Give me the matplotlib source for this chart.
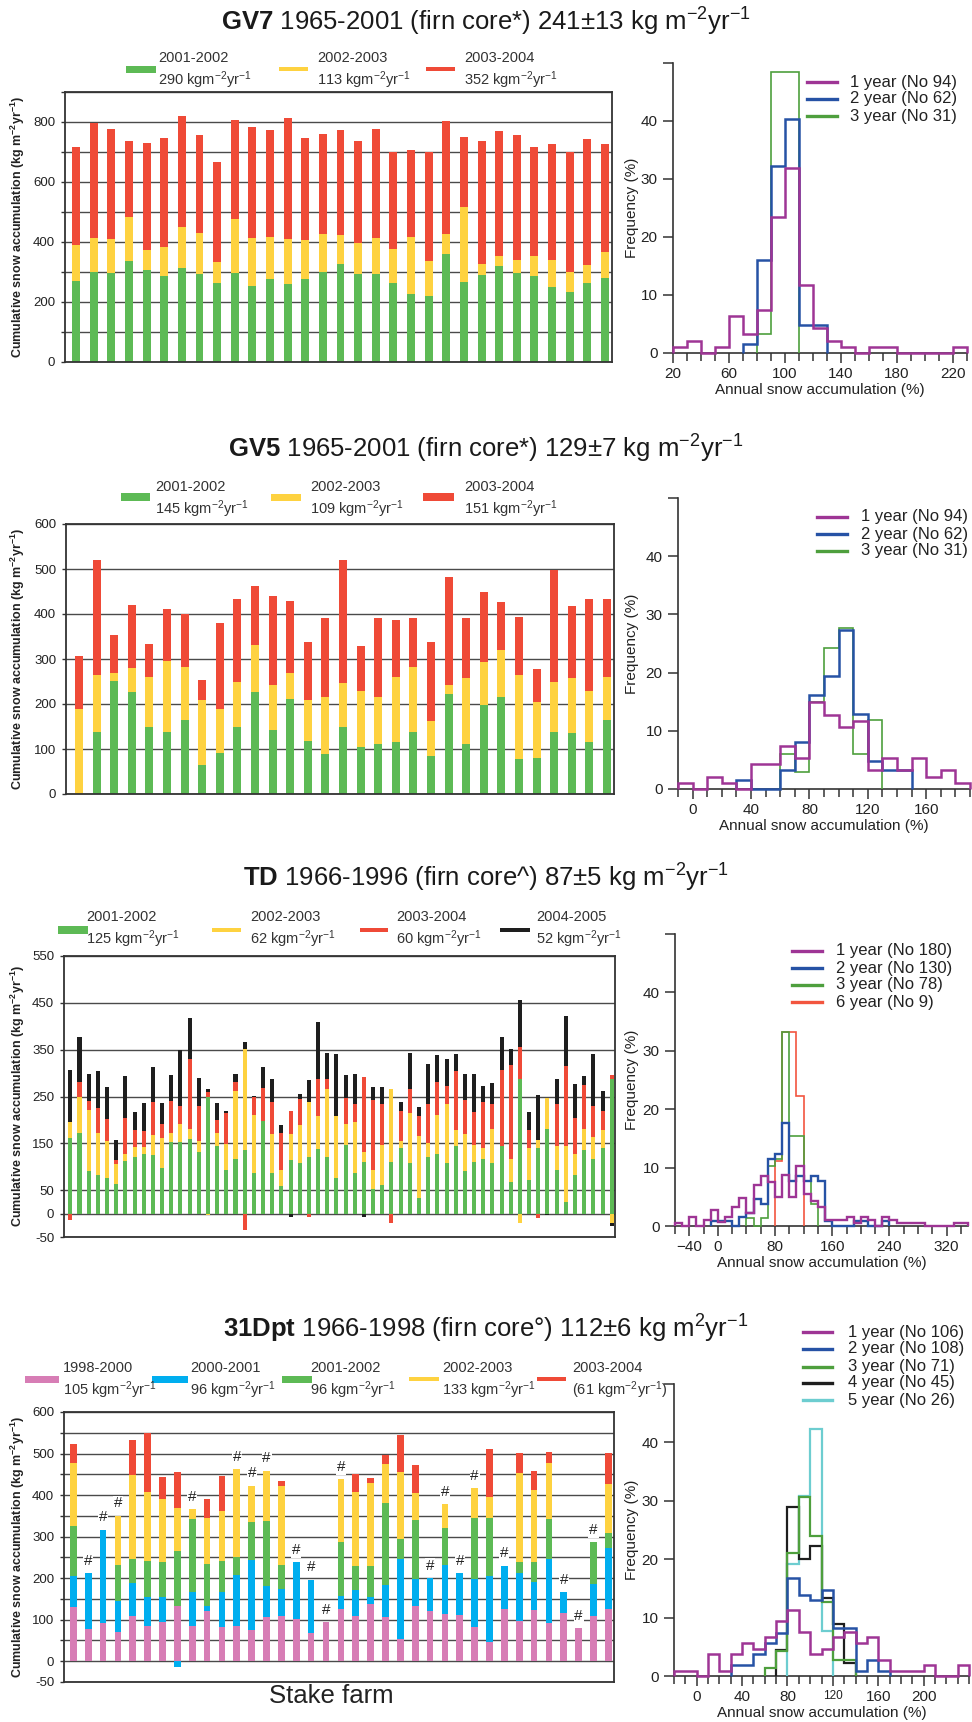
import numpy as np
import matplotlib
matplotlib.use('Agg')
import matplotlib.pyplot as plt
from matplotlib.lines import Line2D
from matplotlib.patches import Rectangle

plt.rcParams['font.family'] = ['Liberation Sans', 'DejaVu Sans']
plt.rcParams['mathtext.fontset'] = 'custom'
plt.rcParams['mathtext.rm'] = 'Liberation Sans'
plt.rcParams['mathtext.bf'] = 'Liberation Sans:bold'
plt.rcParams['mathtext.it'] = 'Liberation Sans:italic'
plt.rcParams['mathtext.default'] = 'regular'

# ---------------------------------------------------------------- data
nan = np.nan
# GV7 annual increments per stake (kg m-2 yr-1)
gv7_2002 = [270, 300, 298, 336, 306, 287, 313, 294, 263, 298, 253, 276, 259, 276, 300, 326,
            294, 294, 263, 226, 219, 359, 267, 291, 321, 298, 286, 250, 233, 263, 279]
gv7_2003 = [119, 113, 113, 146, 66, 95, 138, 135, 69, 180, 160, 140, 150, 131, 128, 98,
            104, 120, 113, 191, 118, 69, 249, 35, 31, 43, 66, 91, 66, 59, 88]
gv7_2004 = [328, 384, 367, 255, 358, 366, 368, 328, 336, 328, 369, 358, 403, 341, 331, 349,
            339, 364, 324, 289, 363, 376, 235, 410, 417, 415, 365, 387, 401, 422, 359]

# GV5
gv5_2002 = [0, 138, 252, 226, 150, 137, 165, 65, 92, 150, 226, 143, 211, 118, 90, 150,
            104, 112, 116, 138, 85, 222, 112, 198, 215, 78, 81, 138, 135, 116, 165]
gv5_2003 = [189, 127, 17, 55, 109, 159, 118, 143, 97, 99, 105, 99, 58, 90, 125, 96,
            126, 103, 144, 145, 78, 21, 145, 96, 105, 187, 124, 111, 122, 113, 96]
gv5_2004 = [118, 255, 84, 140, 75, 115, 117, 46, 191, 184, 132, 198, 159, 129, 176, 274,
            100, 176, 127, 108, 174, 239, 134, 154, 107, 129, 73, 248, 160, 204, 173]

# TD
td_2002 = [162, 171, 90, 83, 75, 64, 112, 121, 128, 125, 98, 152, 152, 159, 132, 249, 144, 94, 116, 135,
           87, 197, 87, 59, 114, 107, 121, 137, 121, 75, 147, 87, 110, 53, 60, 110, 140, 107, 33, 121,
           128, 107, 144, 90, 110, 117, 107, 144, 68, 288, 71, 140, 181, 94, 25, 82, 135, 116, 140, 288]
td_2003 = [34, 78, 131, 90, 79, 42, 15, 22, 15, 42, 64, 21, 40, 21, 22, -4, 29, 55, 145, 217,
           124, 0, 82, 35, 55, 82, 117, 72, 144, 133, 45, 109, 21, 40, 87, 155, 14, 108, 133, 30,
           83, 128, 34, 79, 37, 22, 74, 0, 48, -20, 68, 17, 66, 50, 119, 46, 46, 48, 38, -20]
td_2004 = [-13, 31, 19, 53, 47, 8, 77, 36, 34, 71, 30, 67, 37, 151, 75, 10, 26, 65, 19, -36,
           38, 71, 69, 79, 50, 55, -7, 79, 23, 0, 55, 39, 161, 149, 88, -20, 65, 50, 42, 84,
           69, 37, 126, 73, 70, 99, 54, 163, 201, 68, 39, -9, 0, 89, 171, 77, 93, 66, 41, 7]
td_2005 = [111, 96, 57, 79, 70, 43, 90, 38, 59, 74, 45, 55, 121, 87, 61, 6, 37, 5, 17, 15,
           3, 44, 50, 16, -7, 12, 47, 121, 54, 132, 48, 64, -7, 28, 35, 0, 19, 77, 20, 84,
           58, 58, 37, 57, 80, 35, 43, 69, 35, 100, 39, 96, -3, 54, 106, 71, 19, 110, 42, -7]

# 31Dpt (nan = not measured, marked "#")
d31_2000 = [130, 78, 92, 70, 110, 86, 94, 132, 84, 120, 82, 84, 74, 106, 110, 102, 68, 94, 126,
            108, 138, 106, 54, 134, 122, 114, 112, 82, 46, 126, 96, 124, 92, 116, 80, 108, 126]
d31_2001 = [74, 134, 224, 76, 78, 68, 60, -14, 82, 14, 84, 124, 170, 74, 64, 136, 128, nan, 30,
            64, 16, 78, 192, 64, 78, 117, 100, 116, 158, 104, 116, 67, 154, 50, nan, 78, 146]
d31_2002 = [122, nan, nan, 85, 58, 88, 84, 134, 176, 100, 76, 42, 92, 158, 58, nan, nan, nan, 132,
            58, 76, 198, 48, 142, nan, 89, nan, 146, 142, nan, 27, 47, 96, nan, nan, 100, 36]
d31_2003 = [152, nan, nan, 119, 202, 166, 152, 102, 24, 110, 120, 212, 86, 120, 190, nan, nan, nan, 150,
            178, 200, 94, 162, 64, nan, 58, nan, 72, 49, nan, 213, 174, 136, nan, nan, nan, 118]
d31_2004 = [44, nan, nan, nan, 84, 142, 53, 88, nan, 46, 84, nan, nan, nan, 12, nan, nan, nan, nan,
            42, 12, 20, 88, 68, nan, nan, nan, nan, 117, nan, 50, 46, 26, nan, nan, nan, 76]

# Legend texts of the bar panels
gv7_periods = ['2001-2002', '2002-2003', '2003-2004']
gv7_means = ['290 kgm$^{-2}$yr$^{-1}$', '113 kgm$^{-2}$yr$^{-1}$', '352 kgm$^{-2}$yr$^{-1}$']
gv5_periods = ['2001-2002', '2002-2003', '2003-2004']
gv5_means = ['145 kgm$^{-2}$yr$^{-1}$', '109 kgm$^{-2}$yr$^{-1}$', '151 kgm$^{-2}$yr$^{-1}$']
td_periods = ['2001-2002', '2002-2003', '2003-2004', '2004-2005']
td_means = ['125 kgm$^{-2}$yr$^{-1}$', '62 kgm$^{-2}$yr$^{-1}$', '60 kgm$^{-2}$yr$^{-1}$', '52 kgm$^{-2}$yr$^{-1}$']
d31_periods = ['1998-2000', '2000-2001', '2001-2002', '2002-2003', '2003-2004']
d31_means = ['105 kgm$^{-2}$yr$^{-1}$', '96 kgm$^{-2}$yr$^{-1}$', '96 kgm$^{-2}$yr$^{-1}$',
             '133 kgm$^{-2}$yr$^{-1}$', '(61 kgm$^{-2}$yr$^{-1}$)']

titles = [r'$\mathbf{GV7}$ 1965-2001 (firn core*) 241±13 kg m$^{-2}$yr$^{-1}$',
          r'$\mathbf{GV5}$ 1965-2001 (firn core*) 129±7 kg m$^{-2}$yr$^{-1}$',
          r'$\mathbf{TD}$ 1966-1996 (firn core^) 87±5 kg m$^{-2}$yr$^{-1}$',
          r'$\mathbf{31Dpt}$ 1966-1998 (firn core°) 112±6 kg m$^{2}$yr$^{-1}$']

# Histograms: (first bin left edge, frequencies in % for 10-unit bins)
gv7_h1 = (20, [1.1, 2.1, 0, 1.1, 6.4, 3.2, 7.4, 23.4, 31.9, 11.7, 4.3, 2.1, 1.1, 0, 1.1, 1.1, 0, 0, 0, 0, 1.1])
gv7_h2 = (70, [1.6, 16.1, 32.3, 40.3, 4.8, 4.8])
gv7_h3 = (80, [3.2, 48.4, 48.4])
gv7_hlabels = ['1 year (No 94)', '2 year (No 62)', '3 year (No 31)']

gv5_h1 = (-10, [1.1, 0, 2.1, 1.1, 0, 4.3, 4.3, 7.4, 5.3, 14.9, 12.8, 10.6, 11.7, 3.2, 5.3, 3.2, 5.3, 2.1, 3.2, 1.1])
gv5_h2 = (30, [1.6, 0, 0, 3.2, 8.1, 16.1, 19.4, 27.4, 12.9, 4.8, 3.2, 3.2])
gv5_h3 = (60, [6.0, 3.0, 15.0, 24.3, 27.6, 6.0, 11.8])
gv5_hlabels = ['1 year (No 94)', '2 year (No 62)', '3 year (No 31)']

td_h1 = (-60, [0.5, 0, 1.6, 0, 1.1, 2.7, 0.6, 1.6, 3.2, 4.8, 2.2, 7.0, 8.6, 7.6, 4.9, 8.7, 4.9, 10.3, 5.4,
               4.3, 3.2, 1.1, 1.1, 1.1, 1.6, 0.5, 1.6, 1.1, 0, 1.6, 1.1, 0.5, 0.5, 0.5, 0.5, 0, 0, 0, 0,
               0.5, 0.5])
td_h2 = (-10, [0.8, 0.8, 0.8, 0, 1.5, 2.3, 4.6, 3.8, 11.5, 12.3, 17.7, 7.7, 8.5, 7.7, 8.5, 7.7, 0.8,
               0, 0, 0, 0.8, 0.8, 0, 0, 0.8])
td_h3 = (40, [1.3, 0, 1.3, 10.3, 11.5, 33.3, 15.4, 15.4, 7.7, 3.8])
td_h6 = (80, [11.1, 33.3, 33.3, 22.2])
td_hlabels = ['1 year (No 180)', '2 year (No 130)', '3 year (No 78)', '6 year (No 9)']

d31_h1 = (-20, [0.9, 0.9, 0, 3.8, 0.9, 3.8, 5.7, 4.7, 6.6, 9.4, 11.3, 7.5, 3.8, 4.7, 6.6, 7.5, 5.7,
                6.6, 2.8, 0.9, 0.9, 0.9, 1.9, 0, 0, 1.9])
d31_h2 = (30, [1.9, 1.9, 3.7, 5.6, 7.4, 16.7, 13.9, 13.0, 14.8, 8.3, 8.3, 0.9, 2.8, 0.9])
d31_h3 = (60, [1.4, 4.2, 21.1, 30.6, 23.9, 12.7, 2.8, 2.8])
d31_h4 = (70, [4.4, 28.9, 20.0, 22.2, 13.3, 8.9, 2.2])
d31_h5 = (80, [19.2, 30.8, 42.3, 7.7])
d31_hlabels = ['1 year (No 106)', '2 year (No 108)', '3 year (No 71)', '4 year (No 45)', '5 year (No 26)']

# ---------------------------------------------------------------- style
C_GREEN, C_YEL, C_RED, C_BLK = '#5dba55', '#fed240', '#ef4a37', '#1e1e1e'
C_PINK, C_CYANBAR = '#d77db5', '#00aeef'
H_PUR, H_BLUE, H_GREEN, H_RED, H_BLK, H_CYAN = '#9e3595', '#2652a5', '#4e9f3d', '#f2553f', '#1e1e1e', '#6dcdd0'
TXT = '#222222'
ylab = r'Cumulative snow accumulation (kg m$^{\mathbf{-2}}$yr$^{\mathbf{-1}}$)'

W, H = 972, 1722
fig = plt.figure(figsize=(W / 100, H / 100), dpi=100)


def fx(x):
    return x / W


def fy(y):
    return 1 - y / H


def add_axes(x0, y0, x1, y1):
    return fig.add_axes([x0 / W, 1 - y1 / H, (x1 - x0) / W, (y1 - y0) / H])


def bar_panel(box, series, colors, ylim, grid_vals, label_vals, pad, width=0.45):
    ax = add_axes(*box)
    n = len(series[0])
    x = np.arange(n)
    pos = np.zeros(n)
    neg = np.zeros(n)
    for vals, c in zip(series, colors):
        v = np.nan_to_num(np.asarray(vals, float))
        bottom = np.where(v >= 0, pos, neg)
        ax.bar(x, v, width, bottom=bottom, color=c, linewidth=0, zorder=2)
        pos += np.clip(v, 0, None)
        neg += np.clip(v, None, 0)
    ax.set_xlim(-pad[0], n - 1 + pad[1])
    ax.set_ylim(*ylim)
    ax.set_yticks(grid_vals)
    ax.set_yticklabels([str(v) if v in label_vals else '' for v in grid_vals])
    ax.yaxis.grid(True, color='#4a4a4a', lw=1.0)
    ax.set_axisbelow(True)
    ax.set_xticks([])
    for s in ax.spines.values():
        s.set_color('#333333')
        s.set_linewidth(1.3)
    ax.tick_params(axis='y', length=3, width=1, color='#333333', pad=4, labelsize=9.5, labelcolor=TXT)
    ax.set_ylabel(ylab, fontsize=9, fontweight='bold', color=TXT, va='center')
    ax.yaxis.set_label_coords((18 - box[0]) / (box[2] - box[0]), 0.5)
    return ax, x, pos


def bar_legend(entries, periods, means, y_t1, y_p, y_t2):
    for (x0, x1, h, tx, color), top, bot in zip(entries, periods, means):
        fig.add_artist(Rectangle((fx(x0), fy(y_p + h / 2)), (x1 - x0) / W, h / H,
                                 transform=fig.transFigure, facecolor=color, lw=0))
        fig.text(fx(tx), fy(y_t1), top, fontsize=10.5, va='center', ha='left', color='#333333')
        fig.text(fx(tx), fy(y_t2), bot, fontsize=10.5, va='center', ha='left', color='#333333')


def hist_panel(box, xlim, xlabels, minor_step, hists, styles, xlabel_y=30):
    ax = add_axes(*box)
    for (start, vals), (color, lw) in reversed(list(zip(hists, styles))):
        edges = start + 10 * np.arange(len(vals) + 1)
        sp = ax.stairs(vals, edges, baseline=0, color=color, lw=lw, clip_on=False, zorder=3)
        sp.set_joinstyle('miter')
    ax.set_xlim(*xlim)
    ax.set_ylim(0, 50)
    ax.spines['top'].set_visible(False)
    ax.spines['right'].set_visible(False)
    for s in ('left', 'bottom'):
        ax.spines[s].set_color('#333333')
        ax.spines[s].set_linewidth(1.2)
    ax.set_yticks([0, 10, 20, 30, 40, 50])
    ax.set_yticklabels(['0', '10', '20', '30', '40', ''])
    ax.set_xticks(xlabels)
    ax.set_xticks(np.arange(xlim[0], xlim[1] + 0.1, minor_step), minor=True)
    ax.tick_params(axis='both', which='major', length=7, width=1.1, color='#333333',
                   labelsize=11, labelcolor=TXT)
    ax.tick_params(axis='y', pad=4)
    ax.tick_params(axis='x', pad=3)
    ax.tick_params(axis='x', which='minor', length=6, width=1.1, color='#333333')
    ax.set_ylabel('Frequency (%)', fontsize=11, color=TXT, va='center')
    ax.yaxis.set_label_coords((632 - box[0]) / (box[2] - box[0]), 0.5)
    ax.set_xlabel('Annual snow accumulation (%)', fontsize=11, color=TXT)
    ax.xaxis.set_label_coords(0.5, -xlabel_y / (box[3] - box[1]))
    return ax


def hist_legend(x0, x1, tx, rows, labels, colors):
    for y, lab, c in zip(rows, labels, colors):
        fig.add_artist(Line2D([fx(x0), fx(x1)], [fy(y), fy(y)], color=c, lw=2.4,
                              transform=fig.transFigure))
        fig.text(fx(tx), fy(y), lab, fontsize=12, va='center', ha='left', color=TXT)


# ---------------------------------------------------------------- titles
for t, y in zip(titles, [22, 449, 878, 1329]):
    fig.text(0.5, fy(y), t, fontsize=18.5, ha='center', va='center', color='#1a1a1a')

# ---------------------------------------------------------------- GV7
bar_panel((65, 92, 612, 362), [gv7_2002, gv7_2003, gv7_2004], [C_GREEN, C_YEL, C_RED],
          (0, 900), list(range(0, 901, 100)), [0, 200, 400, 600, 800], (0.63, 0.4))
bar_legend([(126, 156, 7, 158, C_GREEN), (279, 308, 4, 317, C_YEL), (426, 455, 4, 464, C_RED)],
           gv7_periods, gv7_means, 58, 69, 80)
hist_panel((673, 63, 967, 353), (20, 230), [20, 60, 100, 140, 180, 220], 10,
           [gv7_h1, gv7_h2, gv7_h3], [(H_PUR, 1.8), (H_BLUE, 1.8), (H_GREEN, 1.2)])
hist_legend(807, 837, 850, [82, 99, 116], gv7_hlabels, [H_PUR, H_BLUE, H_GREEN])

# ---------------------------------------------------------------- GV5
bar_panel((66, 524, 614, 794), [gv5_2002, gv5_2003, gv5_2004], [C_GREEN, C_YEL, C_RED],
          (0, 600), list(range(0, 601, 100)), [0, 100, 200, 300, 400, 500, 600], (0.74, 0.4))
bar_legend([(121, 150, 8, 155, C_GREEN), (271, 301, 7, 310, C_YEL), (423, 454, 8, 464, C_RED)],
           gv5_periods, gv5_means, 487, 497, 509)
hist_panel((678, 498, 970, 789), (-10, 190), [0, 40, 80, 120, 160], 10,
           [gv5_h1, gv5_h2, gv5_h3], [(H_PUR, 1.8), (H_BLUE, 1.8), (H_GREEN, 1.2)])
hist_legend(817, 847, 861, [517, 534, 551], gv5_hlabels, [H_PUR, H_BLUE, H_GREEN])

# ---------------------------------------------------------------- TD
bar_panel((64, 956, 615, 1237), [td_2002, td_2003, td_2004, td_2005], [C_GREEN, C_YEL, C_RED, C_BLK],
          (-50, 550), [-50, 0, 50, 150, 250, 350, 450, 550], [-50, 0, 50, 150, 250, 350, 450, 550],
          (0.69, 0.36), width=0.44)
bar_legend([(58, 88, 8, 86, C_GREEN), (212, 241, 4, 250, C_YEL), (360, 388, 4, 396, C_RED),
            (500, 530, 4, 536, C_BLK)], td_periods, td_means, 917, 930, 939)
hist_panel((675, 934, 968, 1226), (-60, 350), [-40, 0, 80, 160, 240, 320], 20,
           [td_h1, td_h2, td_h3, td_h6], [(H_PUR, 1.7), (H_BLUE, 1.7), (H_GREEN, 1.2), (H_RED, 1.2)])
hist_legend(792, 822, 836, [951, 968, 985, 1002], td_hlabels, [H_PUR, H_BLUE, H_GREEN, H_RED])

# ---------------------------------------------------------------- 31Dpt
ax31, x31, top31 = bar_panel((64, 1412, 614, 1682), [d31_2000, d31_2001, d31_2002, d31_2003, d31_2004],
                             [C_PINK, C_CYANBAR, C_GREEN, C_YEL, C_RED],
                             (-50, 600), list(range(-50, 601, 50)),
                             [-50, 0, 100, 200, 300, 400, 500, 600], (0.63, 0.38))
for xi, top, last in zip(x31, top31, d31_2004):
    if np.isnan(last):
        ax31.annotate('#', (xi, top), xytext=(0, 9), textcoords='offset points', ha='center',
                      va='center', fontsize=11, color=TXT, zorder=4,
                      bbox=dict(boxstyle='square,pad=0.05', fc='white', ec='none'))
bar_legend([(25, 59, 7, 63, C_PINK), (152, 188, 7, 190, C_CYANBAR), (282, 312, 7, 310, C_GREEN),
            (409, 439, 4, 442, C_YEL), (537, 566, 4, 572, C_RED)], d31_periods, d31_means, 1368, 1379, 1390)
fig.text(fx(331), fy(1696), 'Stake farm', fontsize=18.5, ha='center', va='center', color=TXT)
axh = hist_panel((674, 1384, 969, 1676), (-20, 240), [0, 40, 80, 120, 160, 200], 10,
                 [d31_h1, d31_h2, d31_h3, d31_h4, d31_h5],
                 [(H_PUR, 1.8), (H_BLUE, 1.8), (H_GREEN, 1.6), (H_BLK, 1.6), (H_CYAN, 1.6)])
for lab in axh.get_xticklabels():
    if lab.get_text() == '120':
        lab.set_fontsize(8.5)
hist_legend(803, 832, 848, [1332, 1349, 1367, 1383, 1400], d31_hlabels,
            [H_PUR, H_BLUE, H_GREEN, H_BLK, H_CYAN])

fig.savefig('out.png', dpi=100)
